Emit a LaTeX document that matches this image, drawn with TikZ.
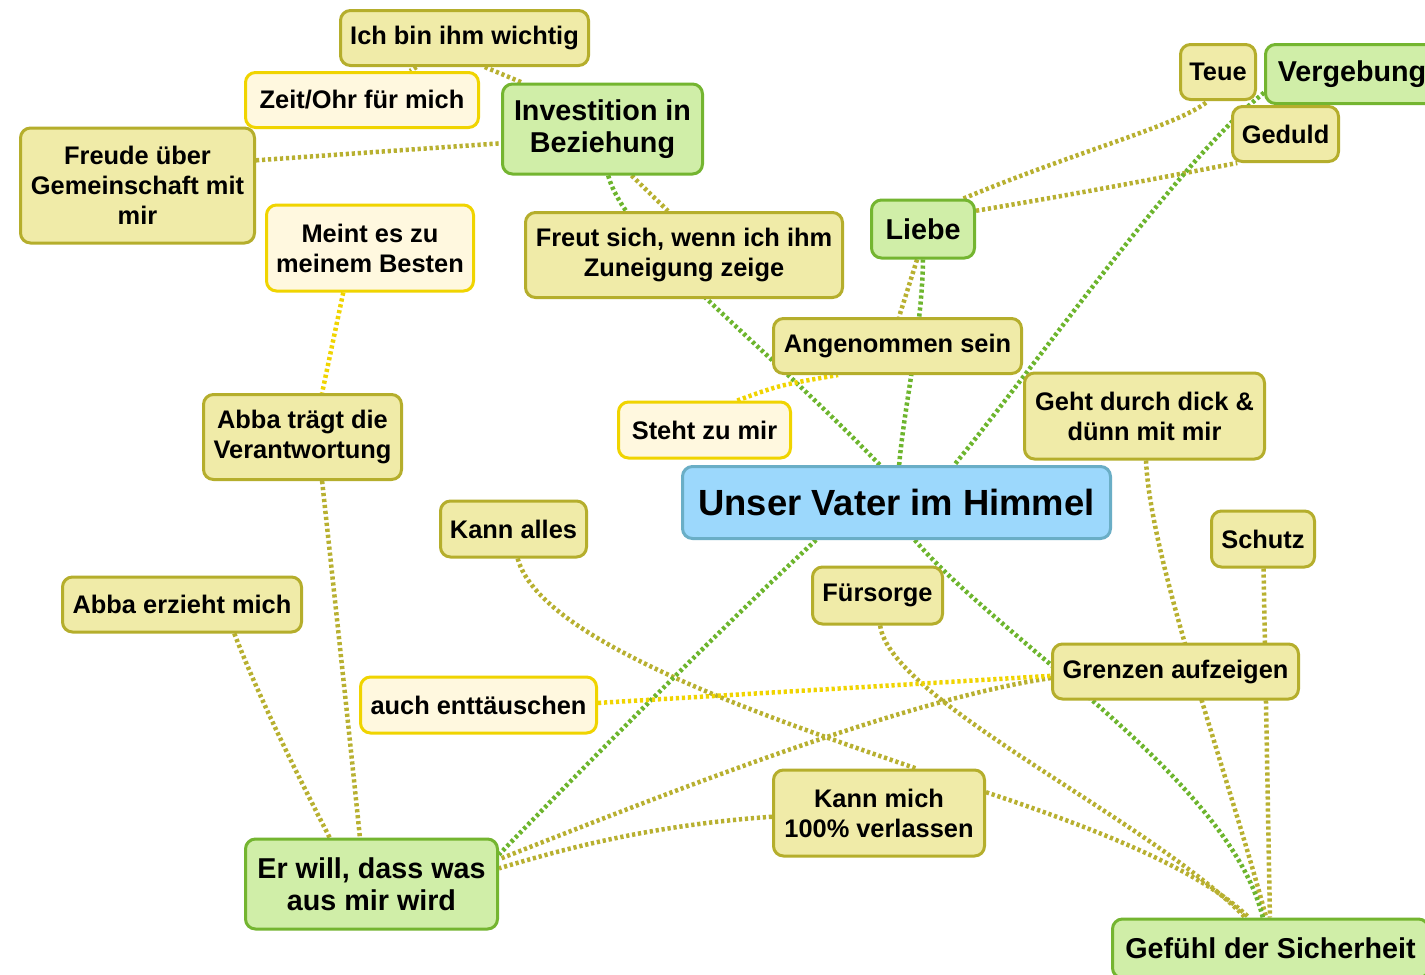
\documentclass[tikz,border=0pt]{standalone}
\usepackage{fontspec}
\setmainfont{Liberation Sans}
\usetikzlibrary{backgrounds}
\definecolor{khakiF}{HTML}{F0EBA8}
\definecolor{khakiB}{HTML}{B5AE2C}
\definecolor{creamF}{HTML}{FFF8DF}
\definecolor{yelB}{HTML}{F0D400}
\definecolor{greenF}{HTML}{D0EEA8}
\definecolor{greenB}{HTML}{74B530}
\definecolor{blueF}{HTML}{9CD8FC}
\definecolor{blueB}{HTML}{6AAEC6}
\definecolor{lineO}{HTML}{B8B030}
\definecolor{lineG}{HTML}{6DB52D}
\definecolor{lineY}{HTML}{F0D400}
\tikzset{
  box/.style={rounded corners=10pt, line width=3pt, inner sep=0pt, align=center, text=black},
  kh/.style={box, fill=khakiF, draw=khakiB, font=\fontsize{25.4}{30}\selectfont\bfseries},
  cr/.style={box, fill=creamF, draw=yelB, font=\fontsize{25.4}{30}\selectfont\bfseries},
  gr/.style={box, fill=greenF, draw=greenB, font=\fontsize{28.7}{32}\selectfont\bfseries},
  bl/.style={box, fill=blueF, draw=blueB, font=\fontsize{36.4}{40}\selectfont\bfseries},
  sz/.style 2 args={minimum width=#1pt, minimum height=#2pt},
  lnO/.style={draw=lineO, line width=4.5pt, dash pattern=on 3.2pt off 2.8pt},
  lnG/.style={draw=lineG, line width=4.5pt, dash pattern=on 3.2pt off 2.8pt},
  lnY/.style={draw=lineY, line width=4.5pt, dash pattern=on 3.2pt off 2.8pt}
}
\begin{document}
\begin{tikzpicture}[x=1pt,y=-1pt]
\useasboundingbox (0,0) rectangle (1425,975);
\node[kh, sz={248}{55}] (ich) at (464.5,38) {Ich bin ihm wichtig};
\node[cr, sz={233}{55}] (zeit) at (362,100) {Zeit/Ohr für mich};
\node[kh, sz={234}{115}] (freude) at (137.5,185.5) {Freude über\\Gemeinschaft mit\\mir};
\node[gr, sz={200}{90}] (invest) at (602.5,129) {Investition in\\Beziehung};
\node[cr, sz={207}{86}] (meint) at (370,248) {Meint es zu\\meinem Besten};
\node[kh, sz={317}{85}] (freut) at (684,255) {Freut sich, wenn ich ihm\\Zuneigung zeige};
\node[gr, sz={103}{58}] (liebe) at (923,229) {Liebe};
\node[kh, sz={75}{55}] (teue) at (1218,72) {Teue};
\node[gr, sz={173}{59}] (verg) at (1352,74) {Vergebung};
\node[kh, sz={106}{55}] (geduld) at (1285.5,134) {Geduld};
\node[kh, sz={248}{55}] (anger) at (897.5,346) {Angenommen sein};
\node[cr, sz={172}{56}] (steht) at (704.5,430) {Steht zu mir};
\node[kh, sz={198}{85}] (abbat) at (302.5,437) {Abba trägt die\\Verantwortung};
\node[kh, sz={240}{86}] (geht) at (1144.5,416) {Geht durch dick \&\\dünn mit mir};
\node[bl, sz={428}{72}] (vater) at (896.5,502.5) {Unser Vater im Himmel};
\node[kh, sz={146}{56}] (kann) at (513.5,529) {Kann alles};
\node[kh, sz={103}{56}] (schutz) at (1263,539) {Schutz};
\node[kh, sz={239}{55}] (abbae) at (182,604.5) {Abba erzieht mich};
\node[kh, sz={130}{57}] (fuer) at (877.5,595.5) {Fürsorge};
\node[kh, sz={246}{55}] (grenz) at (1175.5,671.5) {Grenzen aufzeigen};
\node[cr, sz={236}{56}] (auch) at (478.5,705) {auch enttäuschen};
\node[kh, sz={211}{86}] (kannm) at (879,813) {Kann mich\\100\% verlassen};
\node[gr, sz={252}{90}] (erwill) at (371.5,884) {Er will, dass was\\aus mir wird};
\node[gr, sz={316}{59}] (gefuehl) at (1270.5,948.5) {Gefühl der Sicherheit};
\begin{pgfonlayer}{background}
\fill[white] (0,0) rectangle (1425,975);
\draw[lnO] (ich.305) -- (invest.150);
\draw[lnO] (ich) -- (zeit);
\draw[lnO] (freude.12) -- (invest.188);
\draw[lnO] (invest.302) -- (freut.110);
\draw[lnG] (invest.277) .. controls (625,240) and (760,340) .. (vater.114);
\draw[lnO] (liebe.259) -- (anger.87);
\draw[lnG] (liebe.270) .. controls (922,330) and (905,400) .. (vater.86);
\draw[lnO] (liebe.37) .. controls (1080,150) and (1180,125) .. (teue.251);
\draw[lnO] (liebe.19) .. controls (1100,190) and (1200,170) .. (geduld.211);
\draw[lnG] (verg.192) .. controls (1180,160) and (1040,360) .. (vater.33);
\draw[lnO] (geht.272) .. controls (1150,560) and (1230,780) .. (gefuehl.98);
\draw[lnO] (schutz) -- (gefuehl);
\draw[lnG] (vater.296) .. controls (1000,640) and (1230,780) .. (gefuehl.104);
\draw[lnO] (fuer.275) .. controls (890,700) and (1150,820) .. (gefuehl.129);
\draw[lnO] (kann.278) .. controls (540,640) and (760,715) .. (kannm.50);
\draw[lnO] (kannm.11) .. controls (1100,830) and (1200,870) .. (gefuehl.125);
\draw[lnO] (grenz.183) .. controls (900,700) and (650,800) .. (erwill.11);
\draw[lnO] (kannm.182) .. controls (650,825) and (560,850) .. (erwill.7);
\draw[lnG] (vater.205) .. controls (740,610) and (600,750) .. (erwill.13);
\draw[lnY] (auch.1) -- (grenz.182);
\draw[lnO] (abbae.331) .. controls (260,700) and (300,780) .. (erwill.132);
\draw[lnO] (abbat.294) .. controls (335,600) and (350,740) .. (erwill.104);
\draw[lnY] (meint.239) -- (abbat.66);
\draw[lnY] (steht.42) .. controls (780,385) .. (anger.206);
\end{pgfonlayer}
\end{tikzpicture}
\end{document}
